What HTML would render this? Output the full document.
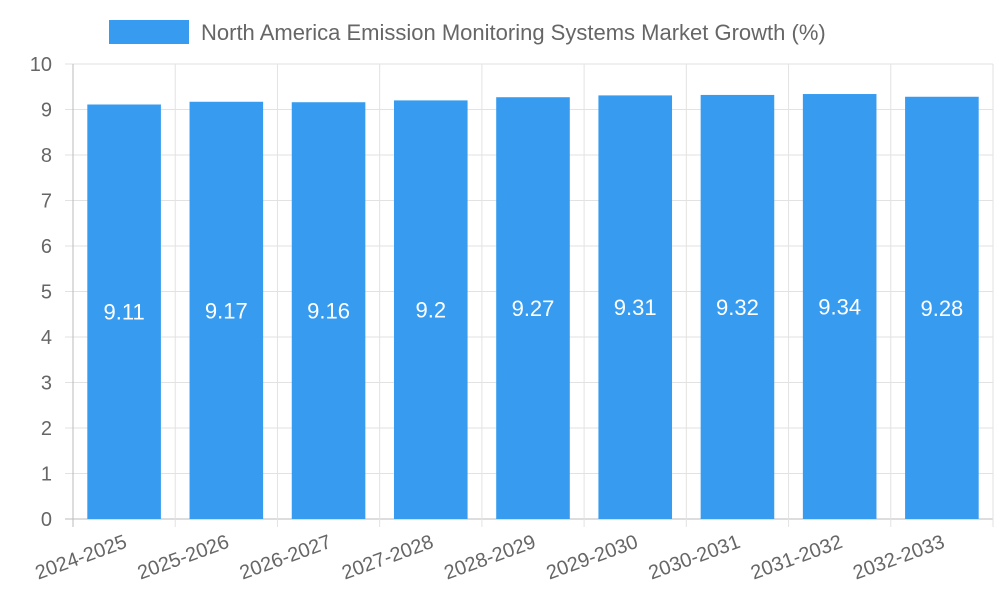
<!DOCTYPE html>
<html><head><meta charset="utf-8"><style>
body{margin:0;background:#fff;font-family:"Liberation Sans",sans-serif}
</style></head><body>
<svg id="chart" width="1000" height="600" xmlns="http://www.w3.org/2000/svg" font-family="Liberation Sans, sans-serif">
<g>
<rect x="109" y="20" width="80" height="24" fill="#379cf0"/>
<text x="201" y="40" font-size="22" fill="#666">North America Emission Monitoring Systems Market Growth (%)</text>
</g>
<g id="grid"></g><g id="bars"></g><g id="axes"></g>
</svg>
<script>
const categories=["2024-2025","2025-2026","2026-2027","2027-2028","2028-2029","2029-2030","2030-2031","2031-2032","2032-2033"];
const growthValues=[9.11,9.17,9.16,9.2,9.27,9.31,9.32,9.34,9.28];
const yTicks=[0,1,2,3,4,5,6,7,8,9,10];
const NS="http://www.w3.org/2000/svg";
const L=73,R=993,T=64,B=519,yMax=10;
const band=(R-L)/categories.length;
const y=v=>B-(v/yMax)*(B-T);
const x=i=>L+i*band;
function mk(t,a,p){const e=document.createElementNS(NS,t);for(const k in a)e.setAttribute(k,a[k]);p.appendChild(e);return e;}
const grid=document.getElementById('grid'),bars=document.getElementById('bars'),axes=document.getElementById('axes');
yTicks.forEach(v=>{
 const g=mk('line',{x1:L-8,x2:R,y1:y(v),y2:y(v),stroke:v===0?'#bbb':'#e2e2e2','stroke-width':1},grid);
 
 
 const t=mk('text',{x:52,y:y(v)+7,'text-anchor':'end','font-size':20,fill:'#666'},axes);
 t.textContent=v;
 
 
});
for(let i=0;i<=categories.length;i++){
 const g=mk('line',{x1:x(i),x2:x(i),y1:T,y2:B+8,stroke:i===0?'#bbb':'#e2e2e2','stroke-width':1},grid);
 
 
}
categories.forEach((c,i)=>{
 const bw=band*0.72,bx=x(i)+(band-bw)/2;
 const r=mk('rect',{x:bx,y:y(growthValues[i]),width:bw,height:B-y(growthValues[i]),fill:'#379cf0'},bars);
 
 
 const vt=mk('text',{x:bx+bw/2,y:(y(growthValues[i])+B)/2+8,'text-anchor':'middle','font-size':22,fill:'#fff'},bars);
 vt.textContent=growthValues[i];
 
 
 const cx=x(i)+band/2+4;
 const t=mk('text',{x:cx,y:B+28,'text-anchor':'end','font-size':20,fill:'#666',transform:`rotate(-20 ${cx} ${B+28})`},axes);
 t.textContent=c;
 
 
});
</script>
</body></html>
